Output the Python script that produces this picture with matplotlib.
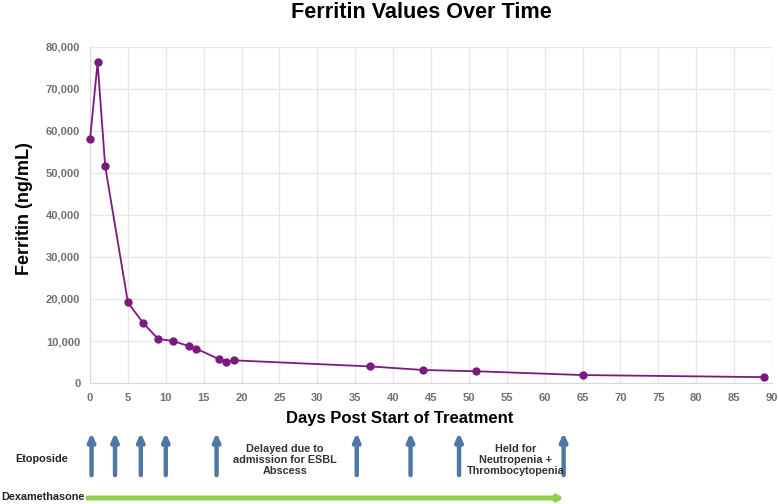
import matplotlib
matplotlib.use('Agg')
from matplotlib import pyplot as plt
from matplotlib.ticker import FuncFormatter

plt.rcParams['font.family'] = ['Liberation Sans', 'DejaVu Sans']

# ferritin measurements
days = [0, 1, 2, 5, 7, 9, 11, 13, 14, 17, 18, 19, 37, 44, 51, 65, 89]
ferritin = [58000, 76300, 51600, 19200, 14300, 10500, 10000, 8800, 8200,
            5700, 5000, 5400, 3950, 3100, 2800, 1900, 1400]

# etoposide doses and dexamethasone course
etoposide_days = [0.2, 3.3, 6.7, 10, 16.7, 35.2, 42.3, 48.7, 62.5]
dexa_start, dexa_end = 0, 62.5

purple = '#7B1A7E'
tick_gray = '#707070'

fig = plt.figure(figsize=(7.78, 5.04), dpi=100)
ax = fig.add_axes([0.1157, 0.240, 0.8766, 0.667])

ax.plot(days, ferritin, color=purple, linewidth=1.3, marker='o', markersize=5,
        clip_on=False, zorder=3)

ax.set_xlim(0, 90)
ax.set_ylim(0, 80000)
ax.set_xticks(range(0, 91, 5))
ax.set_yticks(range(0, 80001, 10000))
ax.yaxis.set_major_formatter(FuncFormatter(lambda v, p: '{:,.0f}'.format(v)))
ax.grid(True, color='#e6e6e6', linewidth=1)
ax.set_axisbelow(True)
for s in ['top', 'right']:
    ax.spines[s].set_visible(False)
for s in ['left', 'bottom']:
    ax.spines[s].set_color('#d9d9d9')
ax.tick_params(length=0, labelsize=8, labelcolor=tick_gray, pad=7)
for lab in ax.get_xticklabels() + ax.get_yticklabels():
    lab.set_fontweight('bold')

ax.set_ylabel('Ferritin (ng/mL)', fontsize=13, fontweight='bold', labelpad=10)
ax.yaxis.set_label_coords(-0.083, 0.52)
fig.text(0.514, 0.170, 'Days Post Start of Treatment', ha='center', va='center',
         fontsize=12, fontweight='bold')
fig.text(0.542, 0.976, 'Ferritin Values Over Time', ha='center', va='center',
         fontsize=15.6, fontweight='bold')

# treatment panel below
bx = fig.add_axes([0.1157, 0.0, 0.8766, 0.157])
bx.set_xlim(0, 90)
bx.set_ylim(0, 1)
bx.axis('off')

for d in etoposide_days:
    bx.annotate('', xy=(d, 0.90), xytext=(d, 0.365),
                arrowprops=dict(arrowstyle='-|>,head_length=0.45,head_width=0.2',
                                color='#4F77A6', lw=3.2, shrinkA=0, shrinkB=0))

bx.annotate('', xy=(dexa_end, 0.076), xytext=(dexa_start - 0.3, 0.076),
            arrowprops=dict(arrowstyle='-|>,head_length=0.25,head_width=0.15',
                            color='#92D050', lw=3.6, shrinkA=0, shrinkB=0))

bx.text(25.7, 0.556, 'Delayed due to\nadmission for ESBL\nAbscess', ha='center', va='center',
        fontsize=7.8, fontweight='bold', color='#333333', linespacing=1.15)
bx.text(56.2, 0.556, 'Held for\nNeutropenia +\nThrombocytopenia', ha='center', va='center',
        fontsize=7.8, fontweight='bold', color='#333333', linespacing=1.15)

fig.text(0.054, 0.089, 'Etoposide', ha='center', va='center', fontsize=7.8,
         fontweight='bold', color='#222222')
fig.text(0.002, 0.014, 'Dexamethasone', ha='left', va='center', fontsize=7.8,
         fontweight='bold', color='#222222')

fig.savefig('out.png', dpi=100)
